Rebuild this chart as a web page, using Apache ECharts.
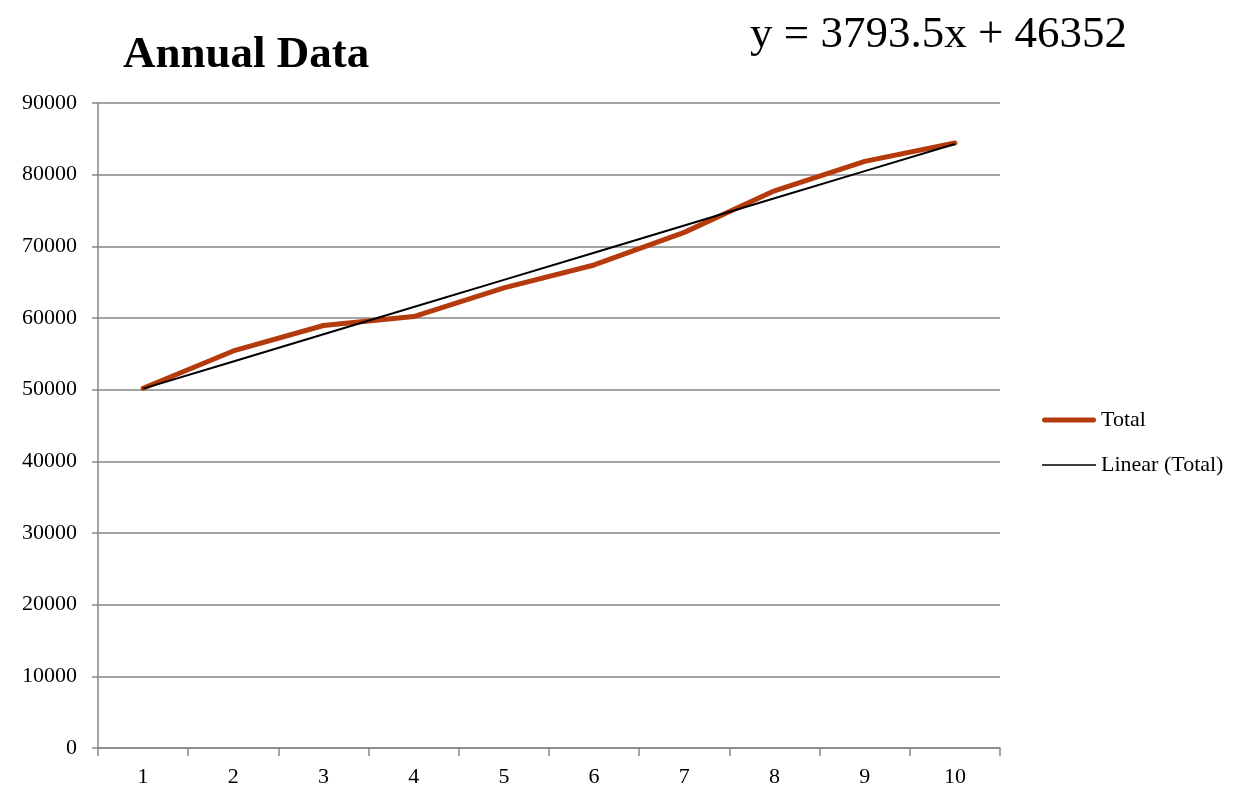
<!DOCTYPE html>
<html>
<head>
<meta charset="utf-8">
<script src="https://cdn.jsdelivr.net/npm/echarts@6/dist/echarts.min.js"></script>
<style>html,body{margin:0;padding:0;background:#fff}#c{width:1237px;height:791px}</style>
</head>
<body>
<div id="c"></div>
<script>
const categories = ['1','2','3','4','5','6','7','8','9','10'];
const totalValues = [50200, 55400, 58950, 60200, 64200, 67400, 71950, 77750, 81850, 84420];
const trendValues = [50145.5, 53939, 57732.5, 61526, 65319.5, 69113, 72906.5, 76700, 80493.5, 84287];
const yTicks = [0, 10000, 20000, 30000, 40000, 50000, 60000, 70000, 80000, 90000];
const titleText = 'Annual Data';
const equationText = 'y = 3793.5x + 46352';

const FONT = '"Liberation Serif", "DejaVu Serif", serif';
const chart = echarts.init(document.getElementById('c'), null, {renderer: 'canvas'});
chart.setOption({
  animation: false,
  backgroundColor: '#fff',
  title: [
    {text: titleText, left: 118, top: 28, textStyle: {fontFamily: FONT, fontSize: 45, fontWeight: 'bold', color: '#000'}},
    {text: equationText, left: 745, top: 8, textStyle: {fontFamily: FONT, fontSize: 45, fontWeight: 'normal', color: '#000'}}
  ],
  grid: {left: 98, right: 237, top: 103, bottom: 43, containLabel: false},
  legend: {
    orient: 'vertical', left: 1037, top: 404, itemWidth: 54, itemHeight: 14, itemGap: 23,
    textStyle: {fontFamily: FONT, fontSize: 22, color: '#000'},
    data: [
      {name: 'Total', icon: 'path://M2.5,0 L51.5,0 A2.5,2.5 0 0 1 51.5,5 L2.5,5 A2.5,2.5 0 0 1 2.5,0 Z', itemStyle: {color: '#B53A0C'}},
      {name: 'Linear (Total)', icon: 'path://M0,0 L54,0 L54,1.6 L0,1.6 Z', itemStyle: {color: '#000'}}
    ]
  },
  xAxis: {
    type: 'category', data: categories, boundaryGap: true,
    axisLine: {lineStyle: {color: '#868686', width: 1.5}},
    axisTick: {show: true, length: 8, lineStyle: {color: '#868686', width: 1.5}},
    axisLabel: {fontFamily: FONT, fontSize: 22, color: '#000', margin: 18}
  },
  yAxis: {
    type: 'value', min: yTicks[0], max: yTicks[yTicks.length - 1], interval: yTicks[1] - yTicks[0],
    axisLine: {show: true, lineStyle: {color: '#868686', width: 1.5}},
    axisTick: {show: true, length: 6, lineStyle: {color: '#868686', width: 1.5}},
    splitLine: {lineStyle: {color: '#868686', width: 1.5}},
    axisLabel: {fontFamily: FONT, fontSize: 22, color: '#000', margin: 21, formatter: function (v) { return String(v); }}
  },
  series: [
    {name: 'Total', type: 'line', data: totalValues, symbol: 'none', smooth: false,
     lineStyle: {color: '#B53A0C', width: 5, cap: 'round', join: 'round'}, itemStyle: {color: '#B53A0C'}, z: 3},
    {name: 'Linear (Total)', type: 'line', data: trendValues, symbol: 'none',
     lineStyle: {color: '#000', width: 2}, itemStyle: {color: '#000'}, z: 4}
  ]
});
</script>
</body>
</html>
